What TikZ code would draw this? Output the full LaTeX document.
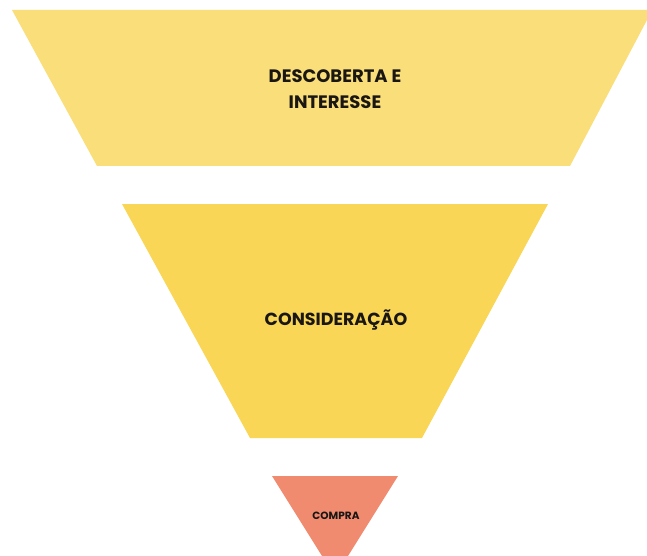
\documentclass[tikz,border=0pt]{standalone}
\usepackage{fontspec}
\setmainfont{Poppins}
\definecolor{descoberta}{RGB}{249,222,122}
\definecolor{consideracao}{RGB}{249,214,86}
\definecolor{compra}{RGB}{240,139,112}
\definecolor{funiltext}{RGB}{26,22,20}

\tikzstyle{funnelpart} = [draw=none]
\tikzstyle{funnellabel} = [text=funiltext, font=\bfseries, align=center, inner sep=0pt]

\begin{document}
\begin{tikzpicture}[x=1pt, y=-1pt]
	\useasboundingbox (0,0) rectangle (647,556);
	% topo do funil
	\fill[funnelpart, descoberta] (12,10) -- (647,10) -- (647,20) -- (570,166) -- (97,166) -- cycle;
	\node [funnellabel, font=\bfseries\fontsize{18}{26}\selectfont] (descoberta) at (335,89) {DESCOBERTA E\\INTERESSE};
	% meio do funil
	\fill[funnelpart, consideracao] (122,204) -- (548,204) -- (422,438) -- (250,438) -- cycle;
	\node [funnellabel, font=\bfseries\fontsize{17.5}{20}\selectfont] (consideracao) at (336,320) {CONSIDERAÇÃO};
	% fundo do funil
	\fill[funnelpart, compra] (272,476) -- (398,476) -- (348,556) -- (322,556) -- cycle;
	\node [funnellabel, font=\bfseries\fontsize{10.5}{12}\selectfont] (compra) at (336,516) {COMPRA};
\end{tikzpicture}
\end{document}
